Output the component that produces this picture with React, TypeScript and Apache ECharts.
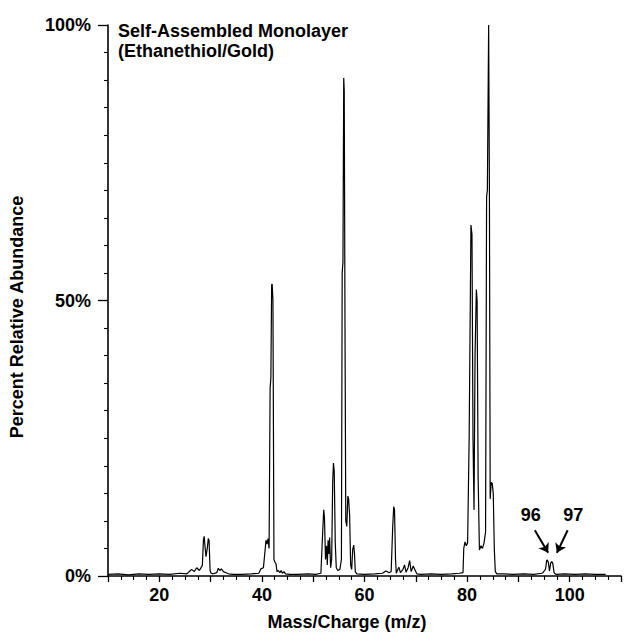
import React, { useEffect, useRef } from "react";
import * as echarts from "echarts";

// Spectrum: [m/z, percent relative abundance]
const baselineLow: number[][] = [
  [10, 0.3], [12, 0.4], [14, 0.2], [16, 0.4], [18, 0.3], [20, 0.4], [22, 0.3], [24, 0.5],
];
const cluster29: number[][] = [
  [25.4, 0.4], [26.3, 1.2], [26.8, 0.8], [27.3, 1.5], [27.8, 1.0], [28.2, 1.6],
  [28.4, 2.0], [28.6, 6.5], [28.75, 7.2], [28.9, 5.5], [29.1, 3.5], [29.35, 5.0],
  [29.55, 6.8], [29.7, 6.5], [29.9, 1.0], [30.1, 0.5], [30.5, 0.4], [31.2, 0.6],
  [31.5, 1.4], [31.8, 1.0], [32.1, 1.3], [32.5, 0.8], [33.0, 0.6], [33.5, 0.4],
  [34.5, 0.3], [36, 0.3], [38, 0.4],
];
const cluster42: number[][] = [
  [39.4, 0.5], [39.8, 1.3], [40.3, 1.5], [40.6, 4.5], [40.8, 6.5], [41.0, 5.8],
  [41.2, 6.8], [41.4, 5.0], [41.6, 34], [41.75, 36], [41.9, 52.8], [42.0, 53],
  [42.15, 50], [42.35, 3], [42.55, 2.5], [42.75, 2.2], [42.95, 0.8], [43.2, 1.0],
  [43.5, 0.6], [43.75, 1.0], [44.0, 0.5], [44.3, 0.8], [44.6, 0.4], [45.5, 0.3],
  [47, 0.3], [49, 0.4], [50.5, 0.3], [51.5, 0.5],
];
const cluster56: number[][] = [
  [51.6, 0.5], [51.85, 8], [52.05, 12], [52.2, 10.5], [52.4, 3], [52.6, 5.5],
  [52.75, 2], [52.9, 6.5], [53.05, 4], [53.2, 7], [53.4, 1.5], [53.6, 3],
  [53.8, 17], [53.95, 20.5], [54.1, 19], [54.3, 6], [54.5, 1.5], [54.8, 1.0],
  [55.2, 1.2], [55.5, 3], [55.65, 55], [55.8, 57], [55.95, 90.4], [56.05, 88],
  [56.2, 45], [56.35, 10], [56.55, 9], [56.75, 14.5], [56.9, 14], [57.1, 11],
  [57.3, 2.0], [57.5, 1.2], [57.7, 4.8], [57.9, 5.6], [58.05, 4.0], [58.2, 0.8],
  [58.5, 0.4], [60, 0.3], [62, 0.4], [63.5, 0.5], [64.2, 0.9], [64.8, 0.6],
];
const cluster66: number[][] = [
  [65.2, 0.8], [65.5, 9], [65.7, 12.6], [65.85, 12], [66.05, 3], [66.2, 0.5],
  [66.4, 1.0], [66.7, 1.6], [67.0, 0.6], [67.5, 1.2], [67.8, 2.0], [68.1, 0.7],
  [68.5, 1.5], [68.8, 2.8], [69.1, 0.8], [69.5, 1.8], [69.8, 1.2], [70.2, 0.4],
  [71, 0.3], [73, 0.4], [75, 0.3], [77, 0.4], [78.5, 0.5],
];
const cluster84: number[][] = [
  [79.2, 0.6], [79.35, 5.0], [79.6, 6.2], [79.85, 5.5], [80.1, 6.0], [80.4, 25],
  [80.75, 63.7], [80.95, 62], [81.15, 25], [81.35, 12], [81.55, 40], [81.8, 52],
  [81.95, 50], [82.15, 18], [82.4, 4.7], [82.7, 5.5], [83.0, 5.0], [83.3, 6.0],
  [83.6, 8], [83.8, 68.8], [83.95, 70], [84.2, 100], [84.35, 70], [84.5, 14],
  [84.7, 17], [84.9, 16.8], [85.1, 15], [85.3, 5], [85.5, 0.8], [85.8, 0.4],
  [87, 0.4], [89, 0.3], [91, 0.4], [93, 0.3], [94.5, 0.5],
];
const cluster96: number[][] = [
  [94.8, 0.6], [95.1, 1.0], [95.3, 1.3], [95.5, 2.8], [95.65, 2.9], [95.85, 2.4],
  [96.05, 0.9], [96.3, 2.4], [96.5, 2.6], [96.7, 2.3], [96.95, 0.6], [97.3, 0.3],
  [99, 0.4], [101, 0.3], [103, 0.4], [105, 0.3], [107, 0.3],
];

const xTickLabels = [20, 40, 60, 80, 100];
const yTickLabels = ["0%", "50%", "100%"];

// Annotations (data coordinates)
const annotationLabels: { text: string; coord: number[] }[] = [
  { text: "96", coord: [92.4, 11.1] },
  { text: "97", coord: [100.7, 11.1] },
];
const annotationArrows: number[][][] = [
  [[93.2, 8.3], [95.8, 4.2]],
  [[99.6, 8.3], [97.5, 4.2]],
];

const FONT = "'Liberation Sans', Arial, Helvetica, sans-serif";

export default function App() {
  const ref = useRef<HTMLDivElement>(null);

  useEffect(() => {
    if (!ref.current) return;
    const chart = echarts.init(ref.current, undefined, { renderer: "svg" });
    const data = [
      ...baselineLow, ...cluster29, ...cluster42, ...cluster56,
      ...cluster66, ...cluster84, ...cluster96,
    ];
    chart.setOption({
      animation: false,
      backgroundColor: "#fff",
      grid: { left: 108, top: 25, right: -17.7, bottom: 58, containLabel: false },
      xAxis: {
        type: "value",
        min: 10,
        max: 110,
        interval: 10,
        axisLine: { show: true, lineStyle: { color: "#000", width: 1.6 } },
        axisTick: { show: true, length: 6, lineStyle: { color: "#000", width: 1.3 } },
        minorTick: { show: true, splitNumber: 4, length: 4, lineStyle: { color: "#000", width: 1.1 } },
        splitLine: { show: false },
        axisLabel: {
          margin: 10,
          color: "#000",
          fontFamily: FONT,
          fontWeight: "bold",
          fontSize: 18,
          formatter: (v: number) => (xTickLabels.includes(v) ? String(v) : ""),
        },
      },
      yAxis: {
        type: "value",
        min: 0,
        max: 100,
        interval: 50,
        axisLine: { show: true, lineStyle: { color: "#000", width: 1.6 } },
        axisTick: { show: true, length: 10, lineStyle: { color: "#000", width: 1.3 } },
        minorTick: { show: true, splitNumber: 10, length: 4, lineStyle: { color: "#000", width: 1.1 } },
        splitLine: { show: false },
        axisLabel: {
          margin: 17,
          color: "#000",
          fontFamily: FONT,
          fontWeight: "bold",
          fontSize: 18,
          formatter: (v: number) => yTickLabels[Math.round(v / 50)] ?? "",
        },
      },
      graphic: [
        {
          type: "text",
          left: 118,
          top: 21,
          style: {
            text: "Self-Assembled Monolayer\n(Ethanethiol/Gold)",
            fontFamily: FONT,
            fontWeight: "bold",
            fontSize: 18,
            lineHeight: 20,
            fill: "#000",
          },
        },
        {
          type: "text",
          x: 17,
          y: 317,
          rotation: Math.PI / 2,
          style: {
            text: "Percent Relative Abundance",
            fontFamily: FONT,
            fontWeight: "bold",
            fontSize: 18,
            fill: "#000",
            align: "center",
            verticalAlign: "middle",
          },
        },
        {
          type: "text",
          x: 347,
          y: 622,
          style: {
            text: "Mass/Charge (m/z)",
            fontFamily: FONT,
            fontWeight: "bold",
            fontSize: 18,
            fill: "#000",
            align: "center",
            verticalAlign: "middle",
          },
        },
      ],
      series: [
        {
          type: "line",
          data,
          showSymbol: false,
          symbol: "none",
          lineStyle: { color: "#000", width: 1.2 },
          clip: true,
          markLine: {
            silent: true,
            symbol: ["none", "arrow"],
            symbolSize: 9,
            label: { show: false },
            lineStyle: { color: "#000", width: 2, type: "solid" },
            data: annotationArrows.map((a) => [
              { coord: a[0] },
              { coord: a[1] },
            ]),
          },
          markPoint: {
            silent: true,
            symbol: "circle",
            symbolSize: 1,
            itemStyle: { color: "rgba(0,0,0,0)" },
            label: {
              show: true,
              position: "inside",
              color: "#000",
              fontFamily: FONT,
              fontWeight: "bold",
              fontSize: 18,
              formatter: (p: any) => p.name,
            },
            data: annotationLabels.map((l) => ({ name: l.text, coord: l.coord })),
          },
        },
      ],
    });
    return () => chart.dispose();
  }, []);

  return (
    <div
      ref={ref}
      style={{ position: "fixed", left: 0, top: 0, width: 624, height: 634, background: "#fff" }}
    />
  );
}
